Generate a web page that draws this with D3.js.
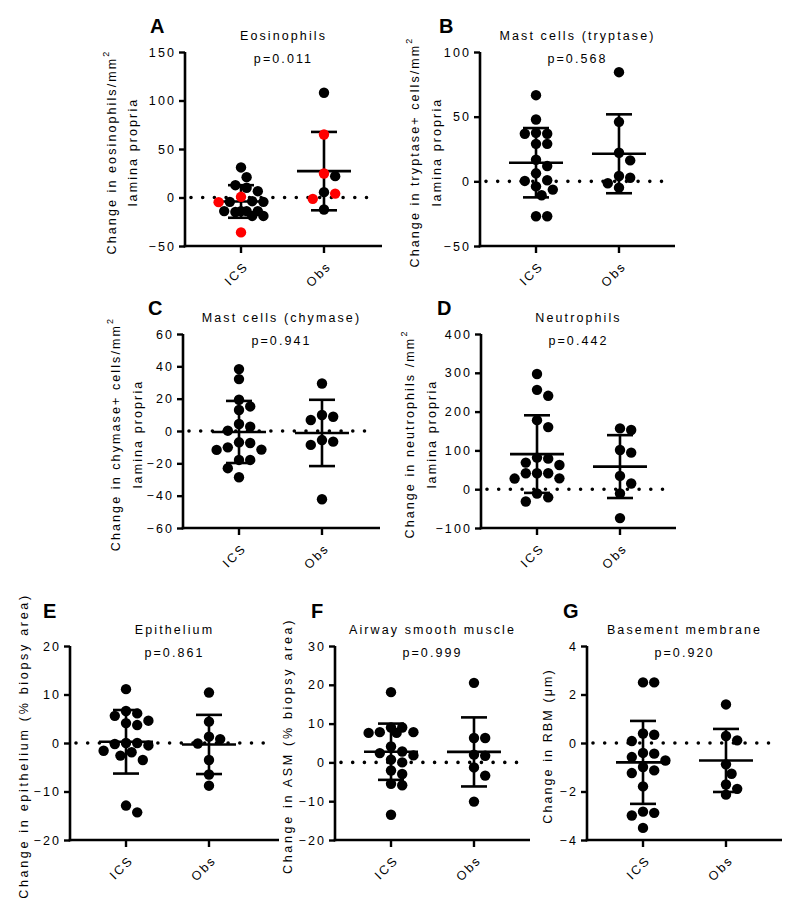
<!DOCTYPE html>
<html><head><meta charset="utf-8">
<script src="https://cdn.jsdelivr.net/npm/d3@7/dist/d3.min.js"></script>
<style>
body{margin:0;background:#fff}
text{font-family:"Liberation Sans",Arial,sans-serif;fill:#000}
</style>
</head><body>
<svg id="chart" width="800" height="908"></svg>
<script>
const groups = ["ICS", "Obs"];

// A: Eosinophils
const eosIcs = [31, 21, 12.7, 10, 6.5, -4.5, -4.5, -3.8, -14, -14, -15, -14, -14, -19, -19];
const eosIcsRed = [0.7, -4.8, -36];
const eosObs = [108, 22, 5.5, -12.4];
const eosObsRed = [65, 24.7, 4, -1.4];
const eosMean = [-4.1, 27.2];
const eosSd = [16.8, 40.4];
const eosTicks = [-50, 0, 50, 100, 150];

// B: Mast cells (tryptase)
const trpIcs = [66.6, 47.8, 36.8, 37.5, 36.8, 29, 29, 16.7, 11.8, 6.2, 0.8, 0.3, -3.9, -6.4, -10.8, -27, -27];
const trpObs = [84.4, 46, 22.1, 16.2, 2.8, 4.1, -1.5, -4.9];
const trpMean = [14.4, 21.3];
const trpSd = [26.8, 30.5];
const trpTicks = [-50, 0, 50, 100];

// C: Mast cells (chymase)
const chyIcs = [38.3, 32.1, 19.3, 13, 15.2, 4.3, 2.7, 0.2, -7, -7.4, -11.5, -10.1, -11.7, -17.9, -17.9, -23, -28.6];
const chyObs = [29.4, 9.9, 6.8, 8.8, -6.6, -8.6, -5.6, -42.2];
const chyMean = [-0.6, -1.2];
const chySd = [19.2, 20.5];
const chyTicks = [-60, -40, -20, 0, 20, 40, 60];

// D: Neutrophils
const neuIcs = [297, 240.7, 256, 178, 160, 78.8, 81.4, 62.5, 68.5, 41, 28, 27.4, 41, 41, -11, -21, -31.7];
const neuObs = [152.5, 156.7, 101, 94.2, 34.3, 14.6, -11, -74.5];
const neuMean = [90.5, 58.3];
const neuSd = [100, 81];
const neuTicks = [-100, 0, 100, 200, 300, 400];

// E: Epithelium
const epiIcs = [11.1, 5.6, 6.1, 6.6, 4.1, 3.7, 4.6, 0, -0.5, -0.2, 0, -1.6, -2.6, -1.9, -3.5, -12.9, -14.3];
const epiObs = [10.4, 4.4, 1.3, 0.8, -0.1, -3.5, -6.5, -8.8];
const epiMean = [0.25, -0.3];
const epiSd = [6.55, 6.1];
const epiTicks = [-20, -10, 0, 10, 20];

// F: Airway smooth muscle
const asmIcs = [18.1, 9, 7.8, 7.6, 7.6, 7.8, 9, 4.1, 2.4, 2.8, 1.8, 0.7, 0, -2.1, -3, -5.5, -5.9, -13.5];
const asmObs = [20.5, 6.3, 6.3, 1.7, 2, -1.3, -3.4, -10.1];
const asmMean = [2.75, 2.7];
const asmSd = [7.25, 8.9];
const asmTicks = [-20, -10, 0, 10, 20, 30];

// G: Basement membrane
const rbmIcs = [2.5, 2.5, 0.34, 0.39, 0.08, -0.44, -0.41, -0.72, -0.58, -1.13, -0.99, -1.24, -1.79, -2.88, -2.99, -2.83, -3.5];
const rbmObs = [1.59, 0.11, 0.29, -0.88, -1.27, -1.71, -1.89, -2.13];
const rbmMean = [-0.8, -0.72];
const rbmSd = [1.71, 1.3];
const rbmTicks = [-4, -2, 0, 2, 4];

const panels = [
  {letter:"A", title:"Eosinophils", p:"p=0.011", ticks:eosTicks,
   ylab:["Change in eosinophils/mm²", "lamina propria"],
   data:[{black:eosIcs, red:eosIcsRed}, {black:eosObs, red:eosObsRed}], mean:eosMean, sd:eosSd,
   L:{x:185, y:52, w:197, h:194, lx:[-69,-48], ls:2.1, letter:[150,33]}},
  {letter:"B", title:"Mast cells (tryptase)", p:"p=0.568", ticks:trpTicks,
   ylab:["Change in tryptase+ cells/mm²", "lamina propria"],
   data:[{black:trpIcs, red:[]}, {black:trpObs, red:[]}], mean:trpMean, sd:trpSd,
   L:{x:480, y:52, w:195, h:194, lx:[-61,-39], ls:2.1, letter:[439,33]}},
  {letter:"C", title:"Mast cells (chymase)", p:"p=0.941", ticks:chyTicks,
   ylab:["Change in chymase+ cells/mm²", "lamina propria"],
   data:[{black:chyIcs, red:[]}, {black:chyObs, red:[]}], mean:chyMean, sd:chySd,
   L:{x:183, y:334, w:197, h:194, lx:[-63,-41], ls:2.1, letter:[148,315]}},
  {letter:"D", title:"Neutrophils", p:"p=0.442", ticks:neuTicks,
   ylab:["Change in neutrophils /mm²", "lamina propria"],
   data:[{black:neuIcs, red:[]}, {black:neuObs, red:[]}], mean:neuMean, sd:neuSd,
   L:{x:481, y:334, w:195, h:194, lx:[-67,-45], ls:2.1, letter:[437,315]}},
  {letter:"E", title:"Epithelium", p:"p=0.861", ticks:epiTicks,
   ylab:["Change in epithelium (% biopsy area)"],
   data:[{black:epiIcs, red:[]}, {black:epiObs, red:[]}], mean:epiMean, sd:epiSd,
   L:{x:70, y:646, w:209, h:194, lx:[-42], ls:2.7, letter:[43,618]}},
  {letter:"F", title:"Airway smooth muscle", p:"p=0.999", ticks:asmTicks,
   ylab:["Change in ASM (% biopsy area)"],
   data:[{black:asmIcs, red:[]}, {black:asmObs, red:[]}], mean:asmMean, sd:asmSd,
   L:{x:335, y:646, w:195, h:194, lx:[-43], ls:2.7, letter:[311,618]}},
  {letter:"G", title:"Basement membrane", p:"p=0.920", ticks:rbmTicks,
   ylab:["Change in RBM (μm)"],
   data:[{black:rbmIcs, red:[]}, {black:rbmObs, red:[]}], mean:rbmMean, sd:rbmSd,
   L:{x:587, y:646, w:195, h:194, lx:[-35], ls:2.1, letter:[563,618]}}
];

const svg = d3.select("#chart");
const R = 5.2;
const LS = "2.1px";

// beeswarm on a half-diameter grid, limited to +/-4 steps; if nothing is free,
// take the slot with the least overlap
function swarm(points, cx, y) {
  const sorted = points.slice().sort((a, b) => b.v - a.v);
  const placed = [];
  const step = 5.6, minD = 10, maxM = 4;
  const cands = [0];
  for (let m = 1; m <= maxM; m++) cands.push(m, -m);
  sorted.forEach(p => {
    const py = y(p.v);
    let best = null, bestD = -1;
    for (const m of cands) {
      const px = cx + m * step;
      const dmin = placed.length ? d3.min(placed, q => Math.hypot(q.x - px, q.y - py)) : Infinity;
      if (dmin >= minD) { best = px; break; }
      if (dmin > bestD + 0.01) { bestD = dmin; best = px; }
    }
    placed.push({x: best, y: py, c: p.c});
  });
  return placed;
}

panels.forEach(P => {
  const L = P.L;
  const g = svg.append("g").attr("transform", `translate(${L.x},${L.y})`);
  const dom = d3.extent(P.ticks);
  const y = d3.scaleLinear().domain(dom).range([L.h, 0]);
  const x = d3.scalePoint().domain(groups).range([0, 195]).padding(0.675);

  // zero dotted line
  g.append("line").attr("x1", 6).attr("x2", L.w - 6)
    .attr("y1", y(0)).attr("y2", y(0))
    .attr("stroke", "#000").attr("stroke-width", 3.6)
    .attr("stroke-linecap", "round").attr("stroke-dasharray", "0,11.7");

  // y axis
  const ya = d3.axisLeft(y).tickValues(P.ticks).tickSize(6).tickPadding(3).tickSizeOuter(0);
  const yg = g.append("g").call(ya);
  yg.select(".domain").attr("stroke-width", 2.6).attr("d", `M0,${y(dom[0]) + 1.3}V${y(dom[1])}`);
  yg.selectAll(".tick line").attr("stroke-width", 2.4);
  yg.selectAll(".tick text").style("font-size", "12.5px").style("letter-spacing", LS)
    .style("font-family", '"Liberation Sans",Arial,sans-serif').attr("fill", "#000");

  // x axis
  g.append("line").attr("x1", -1.3).attr("x2", L.w).attr("y1", L.h).attr("y2", L.h)
    .attr("stroke", "#000").attr("stroke-width", 2.6);
  groups.forEach(k => {
    g.append("line").attr("x1", x(k)).attr("x2", x(k)).attr("y1", L.h).attr("y2", L.h + 7)
      .attr("stroke", "#000").attr("stroke-width", 2.4);
    g.append("text").attr("text-anchor", "end")
      .attr("transform", `translate(${x(k) + 8},${L.h + 21}) rotate(-45)`)
      .style("font-size", "12.5px").style("letter-spacing", LS).text(k);
  });

  // error bars
  groups.forEach((k, i) => {
    const cx = x(k), m = P.mean[i], s = P.sd[i];
    const eb = g.append("g").attr("stroke", "#000").attr("stroke-width", 2.6);
    eb.append("line").attr("x1", cx).attr("x2", cx).attr("y1", y(m + s)).attr("y2", y(m - s));
    eb.append("line").attr("x1", cx - 27).attr("x2", cx + 27).attr("y1", y(m)).attr("y2", y(m));
    eb.append("line").attr("x1", cx - 13).attr("x2", cx + 13).attr("y1", y(m + s)).attr("y2", y(m + s));
    eb.append("line").attr("x1", cx - 13).attr("x2", cx + 13).attr("y1", y(m - s)).attr("y2", y(m - s));
  });

  // points
  groups.forEach((k, i) => {
    const d = P.data[i];
    const pts = d.black.map(v => ({v, c: "#000"})).concat(d.red.map(v => ({v, c: "#ff0000"})));
    const placed = swarm(pts, x(k), y);
    g.selectAll(null).data(placed).enter().append("circle")
      .attr("cx", p => p.x).attr("cy", p => p.y).attr("r", R).attr("fill", p => p.c);
  });

  // title and p
  g.append("text").attr("x", L.w / 2).attr("y", -12).attr("text-anchor", "middle")
    .style("font-size", "12.5px").style("letter-spacing", LS).text(P.title);
  g.append("text").attr("x", L.w / 2).attr("y", 11).attr("text-anchor", "middle")
    .style("font-size", "12.5px").style("letter-spacing", LS).text(P.p);

  // y labels
  P.ylab.forEach((lab, j) => {
    const t = g.append("text").attr("text-anchor", "middle")
      .attr("transform", `translate(${L.lx[j]},${L.h / 2 + 3}) rotate(-90)`)
      .style("font-size", "12.5px").style("letter-spacing", L.ls + "px");
    if (lab.endsWith("²")) {
      t.append("tspan").text(lab.slice(0, -1));
      t.append("tspan").attr("dy", -7).style("font-size", "9px").text("2");
    } else {
      t.text(lab);
    }
  });

  // letter
  svg.append("text").attr("x", P.L.letter[0]).attr("y", P.L.letter[1])
    .style("font-size", "20px").style("font-weight", "bold").text(P.letter);
});
</script>
</body></html>
